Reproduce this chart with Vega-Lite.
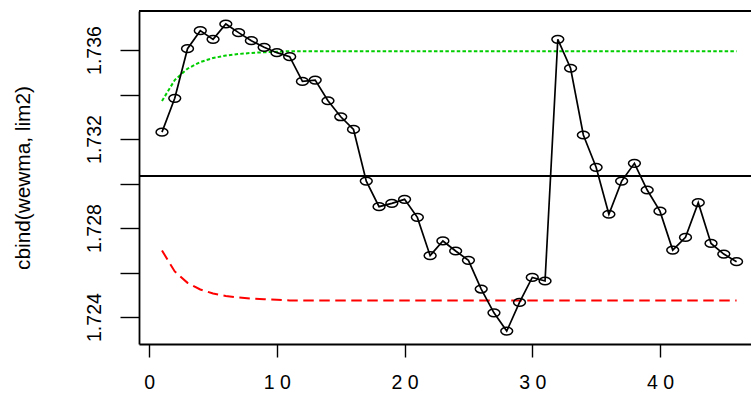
{
  "$schema": "https://vega.github.io/schema/vega-lite/v6.json",
  "autosize": {"type": "none"},
  "padding": {"left": 139, "top": 11, "right": 0, "bottom": 54},
  "width": 612,
  "height": 333,
  "background": "white",
  "config": {
    "view": {"stroke": null},
    "font": "Liberation Sans",
    "axis": {
      "grid": false,
      "domainColor": "black",
      "domainWidth": 1.8,
      "tickColor": "black",
      "tickWidth": 1.4,
      "labelColor": "black",
      "labelFont": "Liberation Sans",
      "labelFontSize": 19.5,
      "titleColor": "black",
      "titleFont": "Liberation Sans",
      "titleFontSize": 20.8,
      "titleFontWeight": "normal"
    }
  },
  "data": {
    "values": [
      {"i": 1, "ewma": 1.73231, "ucl": 1.73371, "lcl": 1.72699},
      {"i": 2, "ewma": 1.73383, "ucl": 1.73465, "lcl": 1.72605},
      {"i": 3, "ewma": 1.73606, "ucl": 1.73516, "lcl": 1.72554},
      {"i": 4, "ewma": 1.73687, "ucl": 1.73546, "lcl": 1.72524},
      {"i": 5, "ewma": 1.73648, "ucl": 1.73564, "lcl": 1.72506},
      {"i": 6, "ewma": 1.73717, "ucl": 1.73575, "lcl": 1.72495},
      {"i": 7, "ewma": 1.73678, "ucl": 1.73582, "lcl": 1.72488},
      {"i": 8, "ewma": 1.73642, "ucl": 1.73587, "lcl": 1.72483},
      {"i": 9, "ewma": 1.73612, "ucl": 1.73590, "lcl": 1.72480},
      {"i": 10, "ewma": 1.73588, "ucl": 1.73592, "lcl": 1.72478},
      {"i": 11, "ewma": 1.73570, "ucl": 1.73595, "lcl": 1.72475},
      {"i": 12, "ewma": 1.73459, "ucl": 1.73595, "lcl": 1.72475},
      {"i": 13, "ewma": 1.73465, "ucl": 1.73595, "lcl": 1.72475},
      {"i": 14, "ewma": 1.73372, "ucl": 1.73595, "lcl": 1.72475},
      {"i": 15, "ewma": 1.73300, "ucl": 1.73595, "lcl": 1.72475},
      {"i": 16, "ewma": 1.73243, "ucl": 1.73595, "lcl": 1.72475},
      {"i": 17, "ewma": 1.73011, "ucl": 1.73595, "lcl": 1.72475},
      {"i": 18, "ewma": 1.72896, "ucl": 1.73595, "lcl": 1.72475},
      {"i": 19, "ewma": 1.72911, "ucl": 1.73595, "lcl": 1.72475},
      {"i": 20, "ewma": 1.72929, "ucl": 1.73595, "lcl": 1.72475},
      {"i": 21, "ewma": 1.72848, "ucl": 1.73595, "lcl": 1.72475},
      {"i": 22, "ewma": 1.72676, "ucl": 1.73595, "lcl": 1.72475},
      {"i": 23, "ewma": 1.72742, "ucl": 1.73595, "lcl": 1.72475},
      {"i": 24, "ewma": 1.72697, "ucl": 1.73595, "lcl": 1.72475},
      {"i": 25, "ewma": 1.72655, "ucl": 1.73595, "lcl": 1.72475},
      {"i": 26, "ewma": 1.72526, "ucl": 1.73595, "lcl": 1.72475},
      {"i": 27, "ewma": 1.72419, "ucl": 1.73595, "lcl": 1.72475},
      {"i": 28, "ewma": 1.72337, "ucl": 1.73595, "lcl": 1.72475},
      {"i": 29, "ewma": 1.72466, "ucl": 1.73595, "lcl": 1.72475},
      {"i": 30, "ewma": 1.72578, "ucl": 1.73595, "lcl": 1.72475},
      {"i": 31, "ewma": 1.72562, "ucl": 1.73595, "lcl": 1.72475},
      {"i": 32, "ewma": 1.73648, "ucl": 1.73595, "lcl": 1.72475},
      {"i": 33, "ewma": 1.73518, "ucl": 1.73595, "lcl": 1.72475},
      {"i": 34, "ewma": 1.73218, "ucl": 1.73595, "lcl": 1.72475},
      {"i": 35, "ewma": 1.73073, "ucl": 1.73595, "lcl": 1.72475},
      {"i": 36, "ewma": 1.72862, "ucl": 1.73595, "lcl": 1.72475},
      {"i": 37, "ewma": 1.73011, "ucl": 1.73595, "lcl": 1.72475},
      {"i": 38, "ewma": 1.73091, "ucl": 1.73595, "lcl": 1.72475},
      {"i": 39, "ewma": 1.72971, "ucl": 1.73595, "lcl": 1.72475},
      {"i": 40, "ewma": 1.72876, "ucl": 1.73595, "lcl": 1.72475},
      {"i": 41, "ewma": 1.72701, "ucl": 1.73595, "lcl": 1.72475},
      {"i": 42, "ewma": 1.72758, "ucl": 1.73595, "lcl": 1.72475},
      {"i": 43, "ewma": 1.72914, "ucl": 1.73595, "lcl": 1.72475},
      {"i": 44, "ewma": 1.72731, "ucl": 1.73595, "lcl": 1.72475},
      {"i": 45, "ewma": 1.72683, "ucl": 1.73595, "lcl": 1.72475},
      {"i": 46, "ewma": 1.72649, "ucl": 1.73595, "lcl": 1.72475}
    ]
  },
  "layer": [
    {
      "mark": {"type": "rule", "color": "black", "strokeWidth": 1.8},
      "encoding": {
        "y": {"datum": 1.737753, "type": "quantitative", "scale": {"domain": [1.72279, 1.737753], "nice": false, "zero": false},
          "title": "cbind(wewma, lim2)",
          "axis": {"values": [1.724, 1.726, 1.728, 1.73, 1.732, 1.734, 1.736], "format": ".3f", "labelExpr": "round(datum.value * 1000) % 4 == 0 ? datum.label : ''", "labelAngle": -90, "labelAlign": "center", "labelBaseline": "alphabetic", "tickSize": 19, "labelPadding": 20, "titlePadding": 51, "labelOverlap": false}}
      }
    },
    {
      "mark": {"type": "rule", "color": "black", "strokeWidth": 1.3},
      "encoding": {
        "y": {"datum": 1.73035, "type": "quantitative", "title": "cbind(wewma, lim2)"}
      }
    },
    {
      "mark": {"type": "line", "color": "#00CD00", "strokeWidth": 2, "strokeDash": [3.5, 2.2]},
      "encoding": {
        "x": {"field": "i", "type": "quantitative", "scale": {"domain": [-0.8, 47.13], "nice": false, "zero": false},
          "title": null,
          "axis": {"values": [0, 10, 20, 30, 40], "labelExpr": "datum.value == 0 ? '0' : floor(datum.value / 10) + ' 0'", "tickSize": 13, "labelPadding": 16, "labelOverlap": false}},
        "y": {"field": "ucl", "type": "quantitative", "title": "cbind(wewma, lim2)"}
      }
    },
    {
      "mark": {"type": "line", "color": "#FF0000", "strokeWidth": 2, "strokeDash": [10.5, 5.5]},
      "encoding": {
        "x": {"field": "i", "type": "quantitative", "title": null},
        "y": {"field": "lcl", "type": "quantitative", "title": "cbind(wewma, lim2)"}
      }
    },
    {
      "mark": {"type": "line", "color": "black", "strokeWidth": 1.7},
      "encoding": {
        "x": {"field": "i", "type": "quantitative", "title": null},
        "y": {"field": "ewma", "type": "quantitative", "title": "cbind(wewma, lim2)"}
      }
    },
    {
      "mark": {"type": "point", "shape": "M -1 0 A 1 0.65 0 1 0 1 0 A 1 0.65 0 1 0 -1 0 Z", "size": 140, "filled": false, "stroke": "black", "strokeWidth": 1.5, "opacity": 1},
      "encoding": {
        "x": {"field": "i", "type": "quantitative", "title": null},
        "y": {"field": "ewma", "type": "quantitative", "title": "cbind(wewma, lim2)"}
      }
    }
  ]
}
